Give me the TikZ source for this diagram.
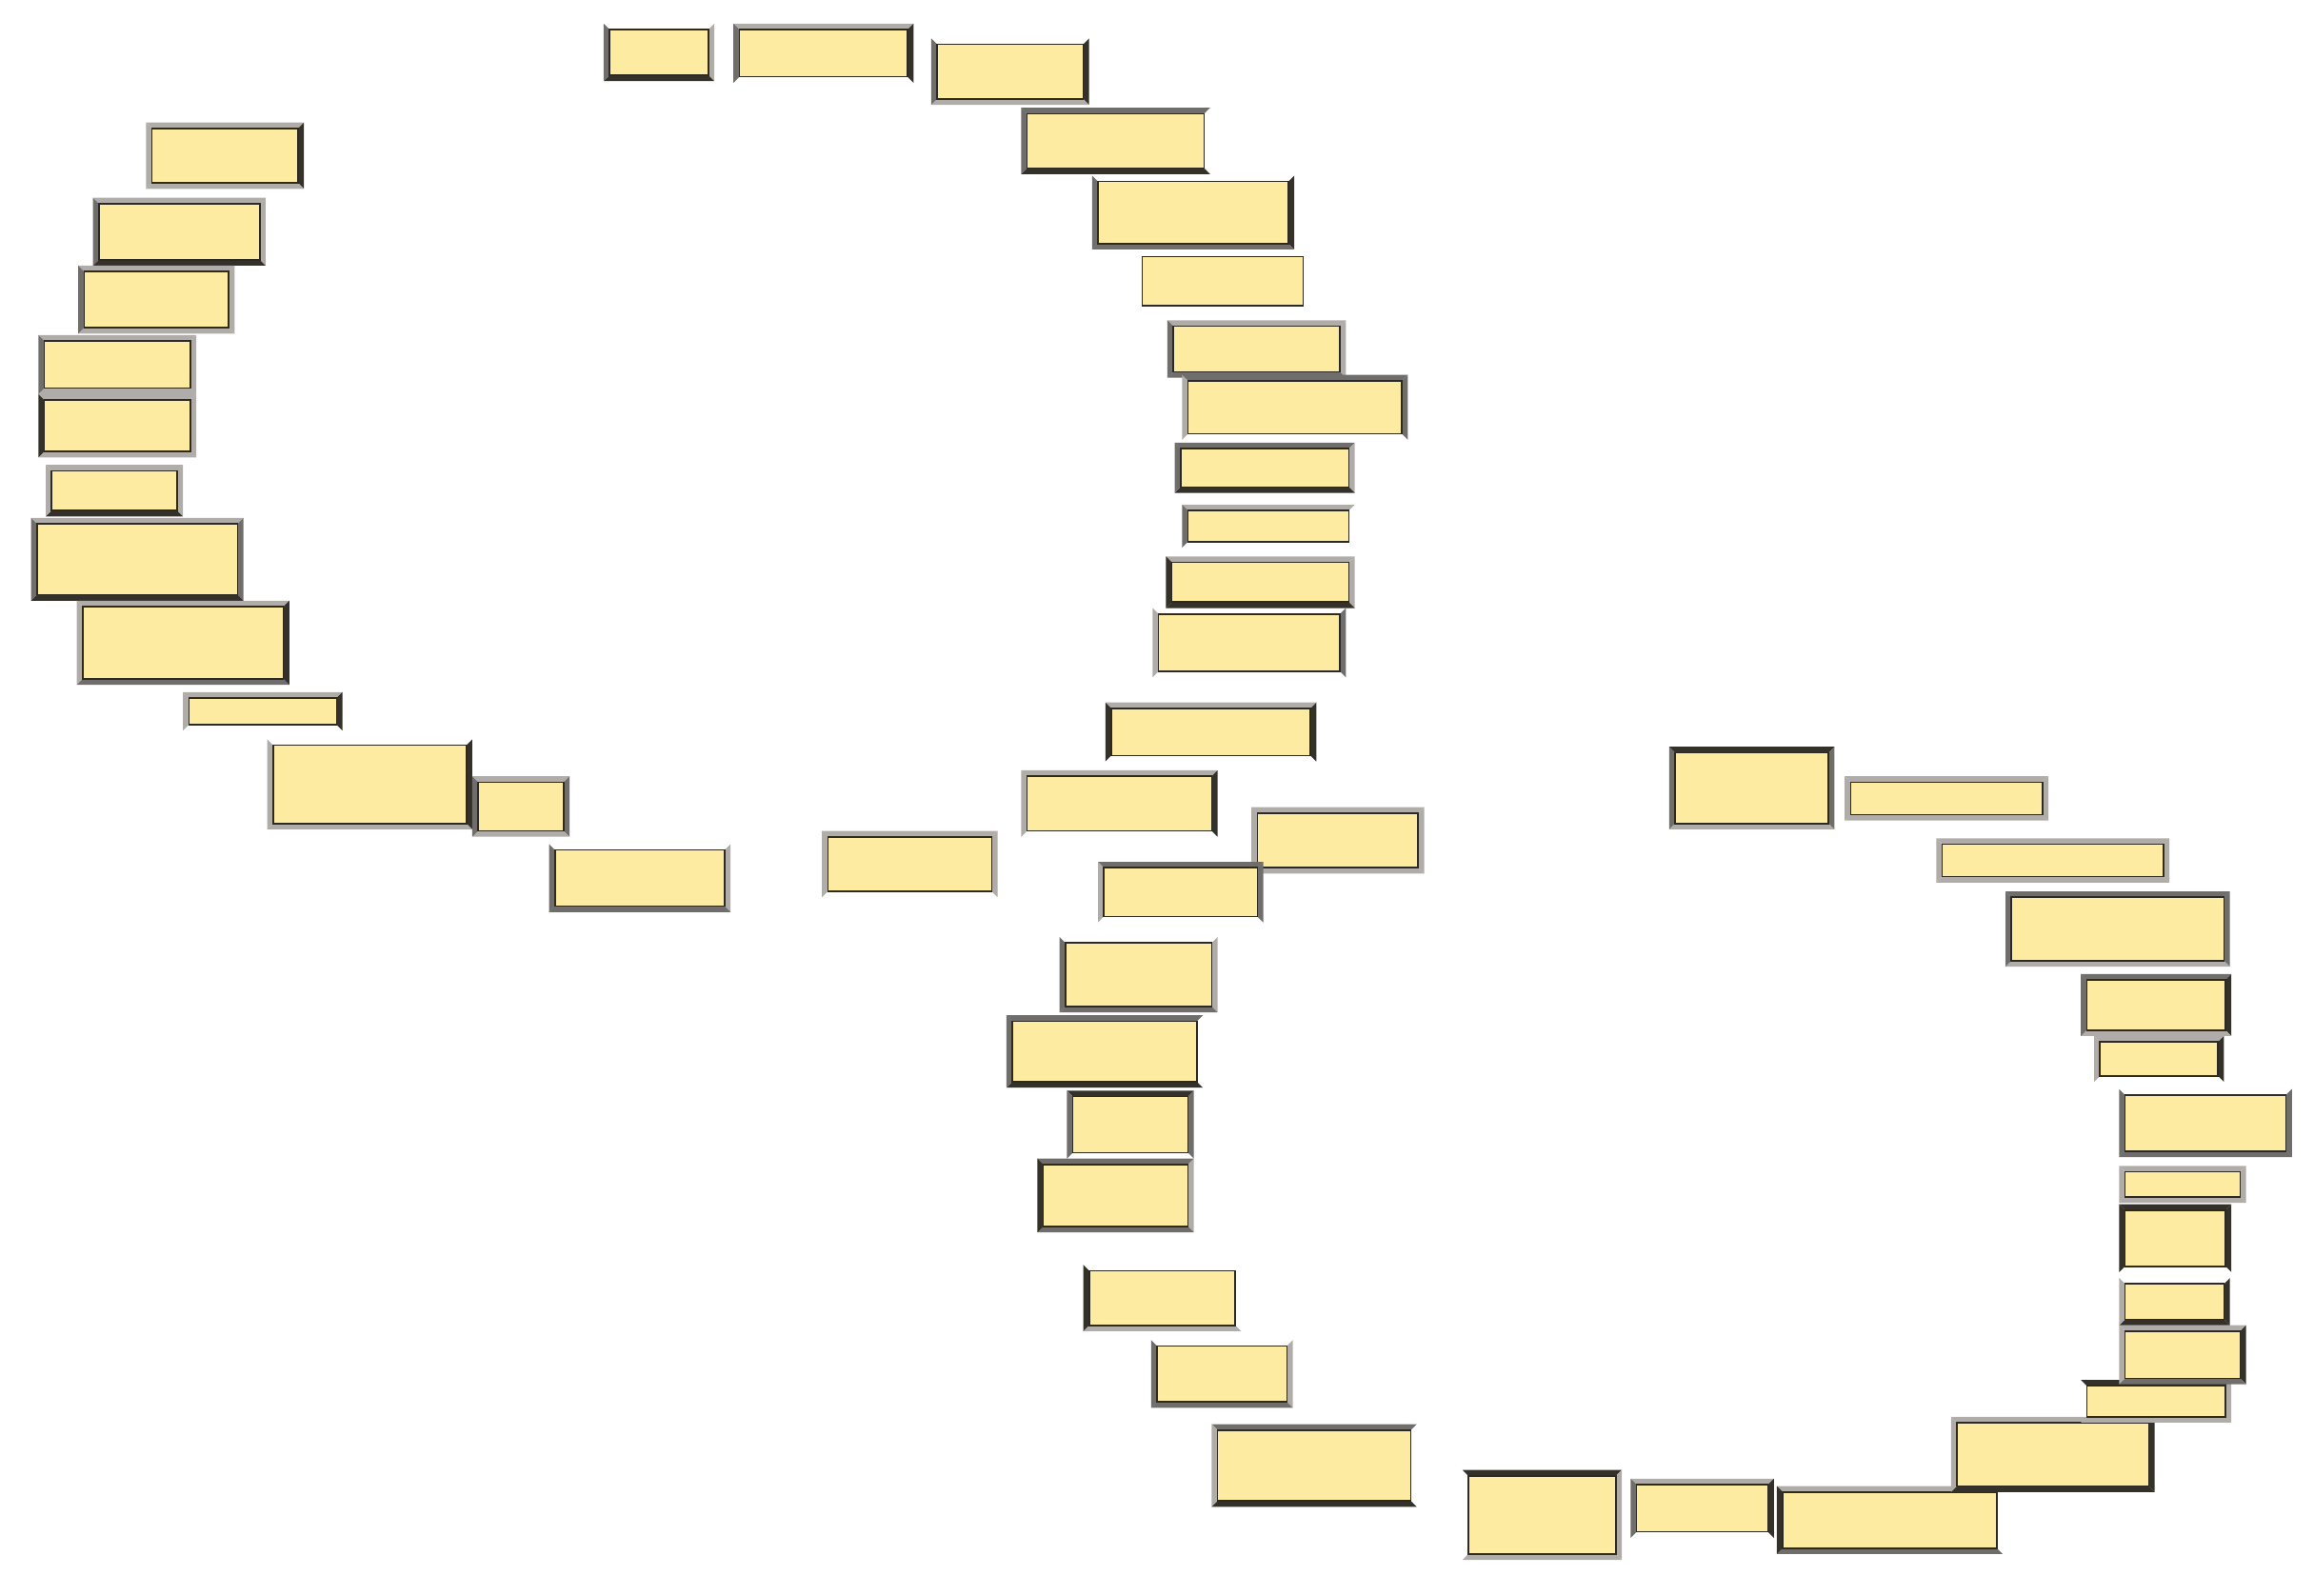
\documentclass[tikz,border=0pt]{standalone}
\usetikzlibrary{fit}
\definecolor{tileyellow}{RGB}{253,235,162}
\definecolor{tileline}{RGB}{47,42,32}
\definecolor{fd}{RGB}{52,48,42}
\definecolor{fm}{RGB}{112,110,108}
\definecolor{fl}{RGB}{176,172,170}
\tikzset{sd/.style={fill=fd}, sm/.style={fill=fm}, sl/.style={fill=fl}, sn/.style={fill=none}}
\newcommand{\tile}[9]{%
  \fill[#6] (#2,#3) -- (#4,#3) -- (#4-4,#3+4) -- (#2+4,#3+4) -- cycle;
  \fill[#7] (#4,#3) -- (#4,#5) -- (#4-4,#5-4) -- (#4-4,#3+4) -- cycle;
  \fill[#8] (#2,#5) -- (#4,#5) -- (#4-4,#5-4) -- (#2+4,#5-4) -- cycle;
  \fill[#9] (#2,#3) -- (#2,#5) -- (#2+4,#5-4) -- (#2+4,#3+4) -- cycle;
  \node[tilebox, fit={(#2+4,#3+4) (#4-4,#5-4)}] (#1) {};}

\begin{document}
\begin{tikzpicture}[x={(0.01cm,0)}, y={(0,-0.01cm)},
    tilebox/.style={rectangle, inner sep=0pt, fill=tileyellow, draw=tileline, line width=0.3pt}]
\useasboundingbox (0,0) rectangle (1568,1081);
\foreach \n/\xa/\ya/\xb/\yb/\st/\sr/\sb/\sw in {
  t1/409/16/484/55/sn/sl/sd/sm, t2/497/16/619/56/sl/sd/sn/sm,
  t3/631/26/738/71/sn/sd/sl/sm, t4/692/73/820/118/sm/sn/sd/sm,
  t5/740/119/877/169/sn/sd/sm/sm, t6/770/170/887/211/sn/sn/sn/sn,
  t7/791/217/912/256/sl/sl/sm/sm, t8/801/254/954/298/sm/sm/sn/sl,
  t9/796/300/918/334/sm/sl/sd/sm, t10/801/342/918/371/sl/sn/sn/sm,
  t11/790/377/918/412/sl/sl/sd/sd, t12/781/412/912/459/sn/sm/sn/sl,
  t13/749/476/892/516/sl/sd/sn/sd, t14/692/522/825/567/sl/sd/sn/sl,
  t15/848/547/965/592/sl/sl/sl/sl, t16/744/584/856/625/sm/sm/sn/sl,
  t17/718/635/825/686/sn/sl/sm/sm, t18/682/688/815/737/sm/sn/sd/sm,
  t19/723/739/809/785/sd/sm/sn/sm, t20/703/785/809/835/sm/sl/sm/sd,
  t21/734/857/841/902/sn/sn/sl/sd, t22/780/908/876/954/sn/sl/sm/sm,
  t23/821/965/960/1021/sm/sn/sd/sl,
  b1/991/996/1099/1057/sd/sl/sl/sn, b2/1105/1002/1202/1042/sl/sd/sn/sm,
  b3/1204/1007/1357/1053/sl/sn/sm/sd, b4/1322/960/1460/1011/sl/sd/sd/sl,
  b5/1410/935/1512/964/sd/sl/sl/sn,
  r1/1436/898/1522/938/sl/sd/sm/sl, r2/1436/866/1511/898/sn/sd/sd/sl,
  r3/1436/816/1512/862/sd/sd/sn/sd, r4/1436/790/1522/815/sl/sl/sl/sl,
  r5/1436/738/1553/784/sn/sm/sm/sm, r6/1419/702/1507/733/sl/sd/sn/sl,
  r7/1410/660/1512/702/sm/sd/sl/sm, r8/1359/604/1511/655/sm/sm/sl/sm,
  r9/1312/568/1470/598/sl/sl/sl/sl, r10/1250/526/1388/556/sl/sl/sl/sl,
  r11/1131/506/1243/562/sd/sm/sl/sm,
  l1/99/83/206/128/sl/sd/sl/sl, l2/63/134/180/180/sl/sl/sd/sm,
  l3/53/180/159/226/sl/sl/sl/sm, l4/26/227/133/267/sl/sl/sl/sm,
  l5/26/267/133/310/sl/sl/sl/sd, l6/31/315/124/350/sl/sl/sd/sl,
  l7/21/351/165/407/sl/sm/sd/sm, l8/52/407/196/464/sl/sd/sm/sl,
  l9/124/469/232/495/sl/sd/sn/sl, l10/181/501/320/562/sn/sd/sl/sl,
  l11/320/526/386/567/sl/sm/sl/sm, l12/372/572/495/618/sn/sl/sm/sm,
  m1/557/563/676/608/sl/sl/sn/sl}
  \tile{\n}{\xa}{\ya}{\xb}{\yb}{\st}{\sr}{\sb}{\sw};
\end{tikzpicture}
\end{document}
